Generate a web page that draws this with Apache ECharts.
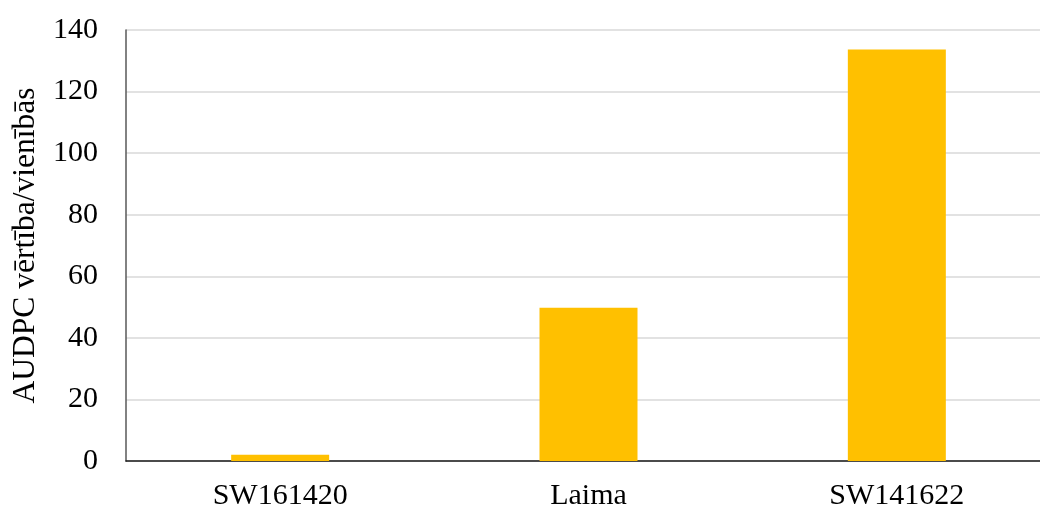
<!DOCTYPE html>
<html>
<head>
<meta charset="utf-8">
<script src="https://cdn.jsdelivr.net/npm/echarts@6/dist/echarts.min.js"></script>
<style>
  html, body { margin: 0; padding: 0; background: #ffffff; overflow: hidden; }
  #chart { width: 1040px; height: 512px; }
</style>
</head>
<body>
<div id="chart"></div>
<script>
// AUDPC per variety
const categories = ['SW161420', 'Laima', 'SW141622'];
const audpcValues = [2.0, 49.8, 133.7];
const yTicks = { min: 0, max: 140, step: 20 };
const yAxisTitle = 'AUDPC vērtība/vienībās';

const fontFamily = '"Liberation Serif", "Times New Roman", serif';

const chart = echarts.init(document.getElementById('chart'), null, { renderer: 'canvas' });
chart.setOption({
  animation: false,
  backgroundColor: '#ffffff',
  // plot area runs slightly past the right edge of the canvas
  grid: {
    left: 126, width: 925, top: 30, bottom: 51,
    containLabel: false, outerBoundsMode: 'none'
  },
  xAxis: {
    type: 'category',
    data: categories,
    axisLine: { show: true, lineStyle: { color: '#1a1a1a', width: 1.5 } },
    axisTick: { show: false },
    axisLabel: { color: '#000000', fontFamily: fontFamily, fontSize: 30, margin: 20 }
  },
  yAxis: {
    type: 'value',
    min: yTicks.min,
    max: yTicks.max,
    interval: yTicks.step,
    name: yAxisTitle,
    nameLocation: 'middle',
    nameGap: 83,
    nameRotate: 90,
    nameTextStyle: { color: '#000000', fontFamily: fontFamily, fontSize: 31.5 },
    axisLine: { show: true, lineStyle: { color: '#595959', width: 1.5 } },
    axisTick: { show: false },
    axisLabel: { color: '#000000', fontFamily: fontFamily, fontSize: 30, margin: 28 },
    splitLine: { show: true, lineStyle: { color: '#d9d9d9', width: 1.5 } }
  },
  series: [{
    type: 'bar',
    data: audpcValues,
    barWidth: 98,
    itemStyle: { color: '#ffc000' }
  }]
});
</script>
</body>
</html>
